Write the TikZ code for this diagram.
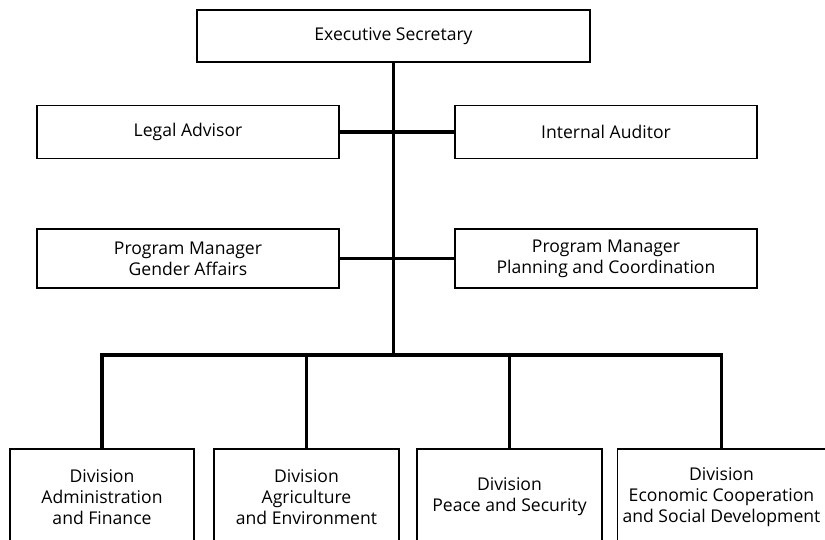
\documentclass[tikz,border=0pt]{standalone}
\usepackage{fontspec}
\setsansfont{Open Sans}
\usetikzlibrary{positioning}

\begin{document}
\begin{tikzpicture}[x=0.025cm, y=-0.025cm, font=\sffamily\fontsize{12.5}{14.8}\selectfont,
    box/.style={draw, line width=1.2pt, align=center, inner sep=0pt},
    link/.style={line width=2.2pt}]
\useasboundingbox (0,0) rectangle (825,540);
\node[box, minimum width=9.83cm, minimum height=1.3cm] (exec) at (393.5,36) {Executive Secretary};
\foreach \x/\n/\name in {188/legal/Legal Advisor,606/audit/Internal Auditor}{\node[box, minimum width=7.55cm, minimum height=1.33cm] (\n) at (\x,132) {\name};}
\foreach \x/\n/\name in {188/gender/{Program Manager\\Gender Affairs},606/plan/{Program Manager\\Planning and Coordination}}{\node[box, minimum width=7.55cm, minimum height=1.48cm] (\n) at (\x,258.5) {\name};}
\foreach \x/\w/\n/\name in {102/4.6/adm/{Division\\Administration\\and Finance},306.5/4.62/agr/{Division\\Agriculture\\and Environment},509.5/4.62/pea/{Division\\Peace and Security},721.5/5.2/eco/{Division\\Economic Cooperation\\and Social Development}}{\node[box, minimum width=\w cm, minimum height=2.4cm] (\n) at (\x,497) {\name};}
\coordinate (bar) at (0,355);
\draw[link] (exec.south) -- (exec.south |- bar);
\draw[link] (legal.east) -- (audit.west);
\draw[link] (gender.east) -- (plan.west);
\draw[link] (adm.north) -- (adm.north |- bar) -- (eco.north |- bar) -- (eco.north);
\foreach \n in {agr,pea}{\draw[link] (\n.north) -- (\n.north |- bar);}
\end{tikzpicture}
\end{document}
